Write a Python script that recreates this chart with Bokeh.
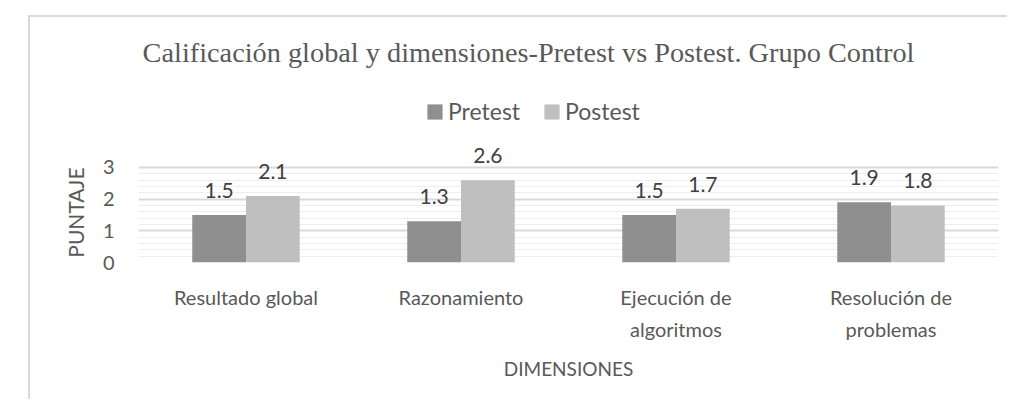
from bokeh.plotting import figure
from bokeh.models import (ColumnDataSource, FactorRange, Legend, LegendItem,
                          LabelSet, Label, SingleIntervalTicker, CategoricalAxis)
from bokeh.core.properties import value
from bokeh.transform import dodge
from bokeh.embed import file_html
from bokeh.resources import INLINE

category_line1 = ["Resultado global", "Razonamiento", "Ejecución de", "Resolución de"]
category_line2 = ["", "", "algoritmos", "problemas"]
pretest = [1.5, 1.3, 1.5, 1.9]
postest = [2.1, 2.6, 1.7, 1.8]
series_names = ["Pretest", "Postest"]
title_text = "Calificación global y dimensiones-Pretest vs Postest. Grupo Control"
x_title = "DIMENSIONES"
y_title = "PUNTAJE"
y_axis_max = 3

PRE_COLOR = "#8f8f8f"
POST_COLOR = "#bfbfbf"
TEXT = "#595959"
SANS = "Lato"

src = ColumnDataSource(dict(
    cat=category_line1, pre=pretest, post=postest,
    pre_lbl=[f"{v:.1f}" for v in pretest],
    post_lbl=[f"{v:.1f}" for v in postest],
))

# frame spans the whole upper area; value axis and grid are bounded to 0..3
p = figure(x_range=FactorRange(*category_line1), y_range=(0, 7.736),
           width=979, height=384, output_backend="svg", toolbar_location=None,
           min_border_left=108, min_border_right=11, min_border_top=0,
           min_border_bottom=139,
           styles={"position": "relative", "left": "28px", "top": "15px",
                   "border-top": "2px solid #d9d9d9",
                   "border-left": "2px solid #d9d9d9"})
p.title_location = None
p.outline_line_color = None
p.background_fill_color = "white"
p.border_fill_color = "white"

# second line of the category labels: a parallel factor range
line2_factors = [s if s else " " * (i + 1) for i, s in enumerate(category_line2)]
p.extra_x_ranges = {"line2": FactorRange(*line2_factors)}

r1 = p.vbar(x=dodge("cat", -0.125, range=p.x_range), top="pre", width=0.25,
            source=src, fill_color=PRE_COLOR, line_color=None)
r2 = p.vbar(x=dodge("cat", 0.125, range=p.x_range), top="post", width=0.25,
            source=src, fill_color=POST_COLOR, line_color=None)

for xoff, col in [(-0.125, "pre"), (0.125, "post")]:
    lbl = LabelSet(x=dodge("cat", xoff, range=p.x_range), y=col, text=col + "_lbl",
                   source=src, text_align="center", text_baseline="alphabetic",
                   y_offset=17, text_font=value(SANS), text_font_size=value("21px"),
                   text_color="#404040")
    p.add_layout(lbl)

# Title (drawn inside the tall frame, above the bounded value area)
p.add_layout(Label(x=1.814, y=6.63, text=title_text, text_align="center",
                   text_baseline="alphabetic", text_font="Liberation Serif",
                   text_font_size="28.3px", text_color=TEXT))

legend = Legend(items=[LegendItem(label=series_names[0], renderers=[r1]),
                       LegendItem(label=series_names[1], renderers=[r2])],
                orientation="horizontal", location=(287, 137),
                glyph_width=19, glyph_height=19, label_standoff=4, spacing=22,
                padding=0, margin=0, border_line_color=None,
                background_fill_alpha=0, label_text_font=SANS,
                label_text_font_size="23px", label_text_color=TEXT)
p.add_layout(legend)

# Grid
p.xgrid.grid_line_color = None
p.ygrid.grid_line_color = "#d9d9d9"
p.ygrid.grid_line_width = 2
p.ygrid.minor_grid_line_color = "#eeeeee"
p.ygrid.minor_grid_line_width = 1
p.ygrid.bounds = (0, y_axis_max)
p.yaxis.ticker = SingleIntervalTicker(interval=1, num_minor_ticks=5)
p.yaxis.bounds = (0, y_axis_max)

ax2 = CategoricalAxis(x_range_name="line2")
p.add_layout(ax2, "below")

for ax in (p.xaxis[0], ax2, p.yaxis[0]):
    ax.axis_line_color = None
    ax.major_tick_line_color = None
    ax.minor_tick_line_color = None
    ax.major_tick_out = 0
    ax.major_tick_in = 0
    ax.major_label_text_font = SANS
    ax.major_label_text_color = TEXT
    ax.axis_label_text_font = SANS
    ax.axis_label_text_color = TEXT
    ax.axis_label_text_font_style = "normal"

p.yaxis.major_label_text_font_size = "20px"
p.yaxis.major_label_standoff = 20
# the axis title is centred on the whole (tall) frame: trailing no-break spaces
# move the visible word down next to the 0..3 part of the axis
p.yaxis.axis_label = y_title + "\u00a0" * 27
p.yaxis.axis_label_text_font_size = "21px"
p.yaxis.axis_label_standoff = 12

ax1 = p.xaxis[0]
ax1.major_label_text_font_size = "20px"
ax1.major_label_standoff = 22
ax2.major_label_text_font_size = "20px"
ax2.major_label_standoff = 5
ax2.axis_label = x_title
ax2.axis_label_text_font_size = "19px"
ax2.axis_label_standoff = 13

open("out.html", "w").write(file_html(p, INLINE))
